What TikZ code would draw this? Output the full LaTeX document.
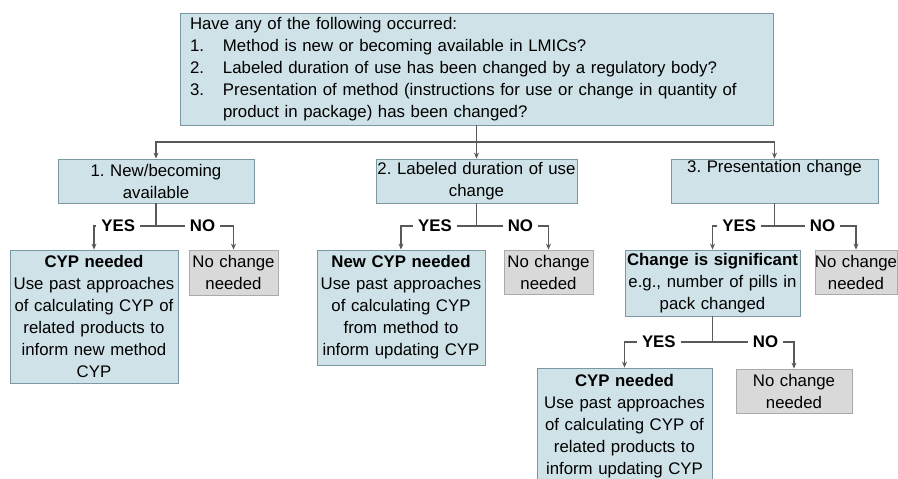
\documentclass[tikz,border=0pt]{standalone}
\usepackage{fontspec}
\setmainfont{Liberation Sans}
\usetikzlibrary{arrows.meta}
\definecolor{boxfill}{RGB}{207,226,232}
\definecolor{boxline}{RGB}{122,152,163}
\definecolor{grayfill}{RGB}{217,217,217}
\definecolor{grayline}{RGB}{170,170,170}
\definecolor{conn}{RGB}{89,89,89}
\newcommand{\fs}{\fontsize{16.8}{22}\selectfont}
\tikzset{
  bluebox/.style={draw=boxline, fill=boxfill, line width=0.8pt, inner sep=0pt, align=center, font=\fs},
  graybox/.style={draw=grayline, fill=grayfill, line width=0.8pt, inner sep=0pt, align=center, font=\fs},
  conline/.style={draw=conn, line width=1.2pt, -{Stealth[length=6pt,width=5pt]}},
  plainline/.style={draw=conn, line width=1.2pt},
  lab/.style={fill=white, font=\fs\bfseries, inner xsep=5pt, inner ysep=1pt}
}
\begin{document}
\begin{tikzpicture}[x=1pt,y=-1pt]
\useasboundingbox (0,0) rectangle (898,479);
\clip (0,0) rectangle (898,479);
% top box
\node[bluebox, align=left, minimum width=593, minimum height=112, text width=573] (top) at (476.5,69)
 {Have any of the following occurred:\\
  \makebox[33pt][l]{1.}Method is new or becoming available in LMICs?\\
  \makebox[33pt][l]{2.}Labeled duration of use has been changed by a regulatory body?\\
  \makebox[33pt][l]{3.}Presentation of method (instructions for use or change in quantity of\\
  \hspace*{33pt}product in package) has been changed?};
% second row
\node[bluebox, minimum width=196, minimum height=44, text width=190] (b1) at (156,181)
 {\mbox{1.~New/becoming}\\available};
\node[bluebox, minimum width=201, minimum height=44, text width=201] (b2) at (476.5,181)
 {\makebox[201pt]{2.~Labeled duration of use}\\change};
\node[bluebox, minimum width=207, minimum height=44, text width=200] (b3) at (774.5,181)
 {\mbox{3.~Presentation change}\\\strut};
% third row
\node[bluebox, minimum width=168, minimum height=133, text width=166] (b1a) at (94,316.5)
 {\textbf{CYP needed}\\Use past approaches\\of calculating CYP of\\related products to\\inform new method\\CYP};
\node[graybox, minimum width=89, minimum height=45, text width=87] (b1b) at (233.5,272.5)
 {No change\\needed};
\node[bluebox, minimum width=168, minimum height=115, text width=166] (b2a) at (401,307.5)
 {\textbf{New CYP needed}\\Use past approaches\\of calculating CYP\\from method to\\inform updating CYP};
\node[graybox, minimum width=89, minimum height=44, text width=87] (b2b) at (548.5,272)
 {No change\\needed};
\node[bluebox, minimum width=175, minimum height=66, text width=175] (b3a) at (712.5,283)
 {\makebox[175pt]{\textbf{Change is significant}}\\e.g., number of pills in\\pack changed};
\node[graybox, minimum width=82, minimum height=44, text width=82] (b3b) at (856,272)
 {\makebox[82pt]{No change}\\needed};
% fourth row
\node[bluebox, minimum width=175, minimum height=117, text width=173] (b4a) at (624.5,426.5)
 {\textbf{CYP needed}\\Use past approaches\\of calculating CYP of\\related products to\\inform updating CYP};
\node[graybox, minimum width=116, minimum height=44, text width=114] (b4b) at (794,391)
 {No change\\needed};
% connectors from top
\coordinate (hub) at (top.south |- 0,142);
\draw[conline] (top.south) -- (b2.north);
\draw[conline] (hub) -| (b1.north);
\draw[conline] (hub) -| (b3.north);
% decision 1
\coordinate (j1) at (b1.south |- 0,226);
\draw[plainline] (b1.south) -- (j1);
\draw[conline] (j1) -- node[lab,pos=0.61]{YES} (j1 -| b1a.north) -- (b1a.north);
\draw[conline] (j1) -- node[lab,pos=0.6]{NO} (j1 -| b1b.north) -- (b1b.north);
% decision 2
\coordinate (j2) at (b2.south |- 0,226);
\draw[plainline] (b2.south) -- (j2);
\draw[conline] (j2) -- node[lab,pos=0.55]{YES} (j2 -| b2a.north) -- (b2a.north);
\draw[conline] (j2) -- node[lab,pos=0.61]{NO} (j2 -| b2b.north) -- (b2b.north);
% decision 3
\coordinate (j3) at (b3.south |- 0,226);
\draw[plainline] (b3.south) -- (j3);
\draw[conline] (j3) -- node[lab,pos=0.57]{YES} (j3 -| b3a.north) -- (b3a.north);
\draw[conline] (j3) -- node[lab,pos=0.59]{NO} (j3 -| b3b.north) -- (b3b.north);
% decision 4
\coordinate (j4) at (b3a.south |- 0,342);
\draw[plainline] (b3a.south) -- (j4);
\draw[conline] (j4) -- node[lab,pos=0.61]{YES} (j4 -| b4a.north) -- (b4a.north);
\draw[conline] (j4) -- node[lab,pos=0.65]{NO} (j4 -| b4b.north) -- (b4b.north);
\end{tikzpicture}
\end{document}
